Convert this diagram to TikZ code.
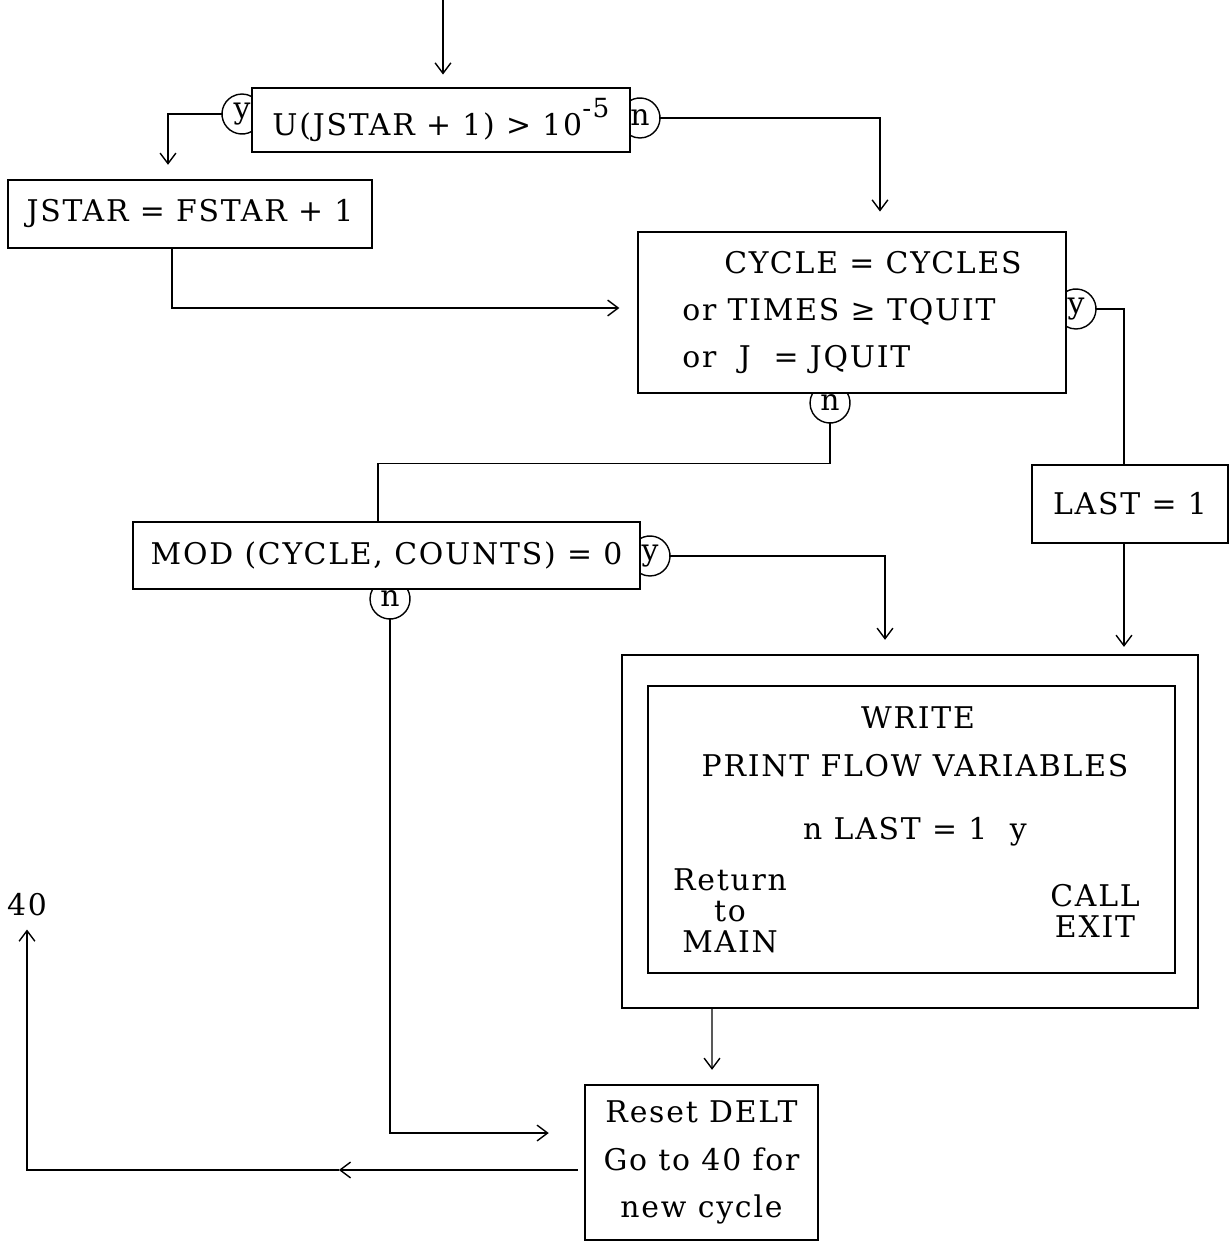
\documentclass[tikz,border=0pt]{standalone}
\usepackage{fontspec}
\setmainfont{DejaVu Serif}[LetterSpace=6]
\usepackage{tikz}
\usetikzlibrary{calc,arrows.meta}

\begin{document}
\begin{tikzpicture}[x=0.02cm, y=-0.02cm,
  txt/.style={font=\fontsize{17}{27}\selectfont},
  blk/.style={draw, line width=1.3pt, inner sep=0pt, txt},
  conn/.style={line width=0.8pt},
  arr/.style={conn, -{Straight Barb[length=6pt, width=9pt]}},
  tag/.style={circle, inner sep=0pt, minimum size=0.8cm, font=\fontsize{17}{17}\selectfont}]
  \useasboundingbox (0,0) rectangle (1231,1243);

  % decision and process boxes
  \node[blk, minimum width=7.56cm, minimum height=1.28cm] (cond) at (441,120)
    {U(JSTAR + 1) > 10\raisebox{1.1ex}{\fontsize{15}{15}\selectfont -5}};
  \node[blk, minimum width=7.28cm, minimum height=1.36cm] (jstar) at (190,214) {JSTAR = FSTAR + 1};
  \node[blk, minimum width=8.56cm, minimum height=3.22cm, align=left] (cyc) at (852,312.5)
    {\hspace{0.84cm}CYCLE = CYCLES\\or TIMES ≥ TQUIT\\or~~J~~= JQUIT};
  \node[blk, minimum width=3.92cm, minimum height=1.56cm] (last) at (1130,504) {LAST = 1};
  \node[blk, minimum width=10.14cm, minimum height=1.34cm] (mod) at (386.5,555.5) {MOD (CYCLE, COUNTS) = 0};
  \node[blk, minimum width=11.52cm, minimum height=7.06cm] (outer) at (910,831.5) {};
  \node[blk, minimum width=10.54cm, minimum height=5.74cm] (inner) at (911.5,829.5) {};
  \node[blk, minimum width=4.66cm, minimum height=3.10cm, align=center] (reset) at (701.5,1162.5)
    {Reset DELT\\Go to 40 for\\new cycle};

  % texts in the write box
  \node[txt] (write) at (918,718) {WRITE};
  \node[txt] (prnt) at (915,766) {PRINT FLOW VARIABLES};
  \node[txt] (lastq) at (915,832) {n\ LAST = 1\ \ y};
  \node[txt, align=center, font=\fontsize{17}{17.5}\selectfont] (ret) at (730,911) {Return\\to\\MAIN};
  \node[txt, align=center, font=\fontsize{17}{18}\selectfont] (cexit) at (1095,911) {CALL\\EXIT};
  \node[txt] (go40) at (27,905) {40};

  % y/n tags
  \node[tag] (y1) at (242,114) {y};
  \node[tag] (n1) at (640,118) {n};
  \node[tag] (y2) at (1076,309) {y};
  \node[tag] (n2) at (830,403) {n};
  \node[tag] (y3) at (650,556) {y};
  \node[tag] (n3) at (390,599) {n};
  \draw[conn] ([shift={(60:20)}]y1.center) arc[start angle=60, end angle=300, radius=20];
  \draw[conn] ([shift={(-120:20)}]n1.center) arc[start angle=-120, end angle=120, radius=20];
  \draw[conn] ([shift={(-120:20)}]y2.center) arc[start angle=-120, end angle=120, radius=20];
  \draw[conn] ([shift={(-30:20)}]n2.center) arc[start angle=-30, end angle=210, radius=20];
  \draw[conn] ([shift={(-120:20)}]y3.center) arc[start angle=-120, end angle=120, radius=20];
  \draw[conn] ([shift={(-30:20)}]n3.center) arc[start angle=-30, end angle=210, radius=20];

  % connectors
  \coordinate (entry) at (443,0);
  \draw[arr, shorten >=7pt] (entry) -- (entry |- cond.north);
  \draw[arr, shorten >=8pt] (y1.west) -| ($(jstar.north)+(-22,0)$);
  \draw[arr, shorten >=11pt] (n1.east) -| ($(cyc.north)+(28,0)$);
  \draw[arr, shorten >=10pt] ($(jstar.south)+(-18,0)$) |- ($(cyc.west)+(0,-4.5)$);
  \draw[conn] (y2.east) -| ($(last.north)+(-6,0)$);
  \draw[conn] (n2.south) -- ++(0,40) -| ($(mod.north)+(-8.5,0)$);
  \draw[arr, shorten >=4pt] ($(last.south)+(-6,0)$) coordinate (lastout) -- (lastout |- outer.north);
  \draw[arr, shorten >=8pt] (y3.east) -| ($(outer.north)+(-25,0)$);
  \draw[arr, shorten >=20pt] (n3.south) |- ($(reset.west)+(0,-29.5)$);
  \draw[arr, shorten >=8pt] ($(outer.south)+(-198,0)$) -- ($(reset.north)+(10.5,0)$);
  \coordinate (back) at ($(reset.west)+(-245,7.5)$);
  \draw[arr] ($(reset.west)+(-6,7.5)$) -- (back);
  \draw[arr, shorten >=4pt] (back) -| (go40);
\end{tikzpicture}
\end{document}
